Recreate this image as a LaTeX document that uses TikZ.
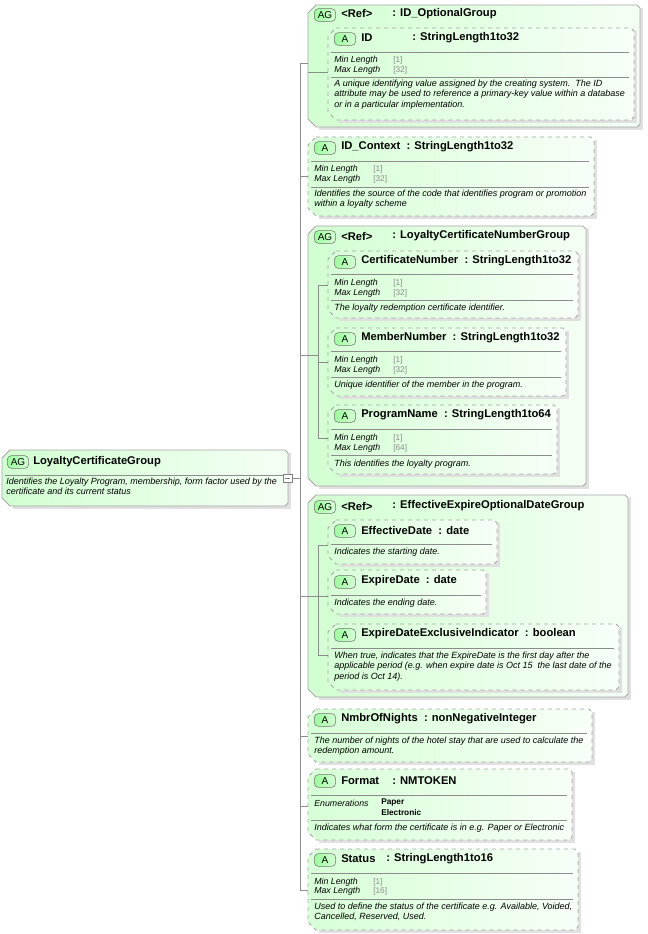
\documentclass[tikz,border=0pt]{standalone}
\usepackage{fontspec}
\setmainfont{Liberation Sans}
\begin{document}
\begin{tikzpicture}[x=0.75pt,y=-0.75pt,
  grp/.style={draw=black!35,line width=0.6pt,left color=green!18,right color=green!4},
  att/.style={draw=black!35,dashed,line width=0.6pt,left color=green!16,right color=green!3},
  conn/.style={draw=black!45,line width=0.5pt},
  sep/.style={draw=black!45,line width=0.5pt},
  ttl/.style={anchor=west,inner sep=0pt,font=\fontsize{8.4}{10}\selectfont\bfseries},
  sm/.style={anchor=west,inner sep=0pt,font=\fontsize{6.6}{7.6}\selectfont\itshape},
  val/.style={anchor=west,inner sep=0pt,text=black!45,font=\fontsize{6.2}{7}\selectfont},
  enum/.style={anchor=west,inner sep=0pt,font=\fontsize{6.2}{7}\selectfont\bfseries},
  desc/.style={anchor=north west,inner sep=0pt,align=left,font=\fontsize{6.75}{7.6}\selectfont\itshape},
  badge/.style={draw=black!55,rounded corners=3pt,left color=green!40,right color=green!15,minimum width=16pt,minimum height=9.5pt,inner sep=0pt,font=\fontsize{7.5}{8}\selectfont}]
\useasboundingbox (0,0) rectangle (648,934);
\newcommand\bx[5]{%
  \fill[black!12] ({#1+11},{#2+3}) -- ({#3+3},{#2+3}) -- ({#3+3},{#4+3}) -- ({#1+11},{#4+3}) -- cycle;
  \path[#5] ({#1+8},#2) -- ({#3-3},#2) -- (#3,{#2+3}) -- (#3,{#4-3}) -- ({#3-3},#4) -- ({#1+8},#4) -- (#1,{#4-8}) -- (#1,{#2+8}) -- cycle;}
\newcommand\hs[3]{\draw[sep] ({#1+3},#3) -- ({#2-5},#3);}
% main element
\bx{2}{450}{288}{506}{grp}
\node[badge] (bm) at (18,462) {AG};
\node[ttl] (tm) at (33,462) {LoyaltyCertificateGroup};
\hs{2}{288}{475}
\node[desc] (dm) at (6,478) {Identifies the Loyalty Program, membership, form factor used by the\\certificate and its current status};
\draw[black!50,fill=white] (283,474) rectangle (292,482);
\draw[black!50] (285,478) -- (290,478);
\coordinate (hub) at (292,478);
\coordinate (vtop) at (300,63);
\coordinate (vbot) at (300,890);
\draw[conn] (hub) -- (300,478);
\draw[conn] (vtop) -- (vbot);
% group 1
\bx{308}{5}{640}{127}{grp}
\node[badge] at (325,15) {AG};
\node[ttl] at (341,14) {<Ref>};
\node[ttl] at (392,14) {: ID\_OptionalGroup};
\bx{328}{28}{634}{120}{att}
\node[badge] at (345,39) {A};
\node[ttl] at (361,38) {ID};
\node[ttl] at (412,38) {: StringLength1to32};
\hs{328}{634}{52}
\node[sm] at (334,60) {Min Length}; \node[val] at (393,60) {[1]};
\node[sm] at (334,70) {Max Length}; \node[val] at (393,70) {[32]};
\hs{328}{634}{77}
\node[desc] at (334,80) {A unique identifying value assigned by the creating system.\ \ The ID\\attribute may be used to reference a primary-key value within a database\\or in a particular implementation.};
\coordinate (c1) at (308,63);
\draw[conn] (308,72) -- (328,72);
% ID_Context
\bx{308}{137}{594}{216}{att}
\node[badge] at (325,148) {A};
\node[ttl] at (341,147) {ID\_Context\ \ : StringLength1to32};
\hs{308}{594}{161}
\node[sm] at (314,169) {Min Length}; \node[val] at (373,169) {[1]};
\node[sm] at (314,179) {Max Length}; \node[val] at (373,179) {[32]};
\hs{308}{594}{187}
\node[desc] at (314,190) {Identifies the source of the code that identifies program or promotion\\within a loyalty scheme};
\coordinate (c2) at (308,176);
\draw[conn] (300,176) -- (c2);
% group 3
\bx{308}{226}{586}{486}{grp}
\node[badge] at (325,237) {AG};
\node[ttl] at (341,236) {<Ref>};
\node[ttl] at (392,236) {: LoyaltyCertificateNumberGroup};
\coordinate (g3) at (308,355);
\draw[conn] (300,355) -- (g3);
\draw[conn] (308,355) -- (318,355) (318,285) -- (318,438);
\bx{328}{251}{578}{318}{att}
\node[badge] at (345,262) {A};
\node[ttl] at (361,261) {CertificateNumber\ \ : StringLength1to32};
\hs{328}{578}{274}
\node[sm] at (334,283) {Min Length}; \node[val] at (393,283) {[1]};
\node[sm] at (334,293) {Max Length}; \node[val] at (393,293) {[32]};
\hs{328}{578}{300}
\node[desc] at (334,304) {The loyalty redemption certificate identifier.};
\draw[conn] (318,285) -- (328,285);
\bx{328}{328}{566}{396}{att}
\node[badge] at (345,339) {A};
\node[ttl] at (361,338) {MemberNumber\ \ : StringLength1to32};
\hs{328}{566}{351}
\node[sm] at (334,360) {Min Length}; \node[val] at (393,360) {[1]};
\node[sm] at (334,370) {Max Length}; \node[val] at (393,370) {[32]};
\hs{328}{566}{377}
\node[desc] at (334,381) {Unique identifier of the member in the program.};
\draw[conn] (318,362) -- (328,362);
\bx{328}{405}{557}{474}{att}
\node[badge] at (345,416) {A};
\node[ttl] at (361,415) {ProgramName\ \ : StringLength1to64};
\hs{328}{557}{429}
\node[sm] at (334,438) {Min Length}; \node[val] at (393,438) {[1]};
\node[sm] at (334,448) {Max Length}; \node[val] at (393,448) {[64]};
\hs{328}{557}{455}
\node[desc] at (334,460) {This identifies the loyalty program.};
\draw[conn] (318,438) -- (328,438);
% group 4
\bx{308}{495}{628}{697}{grp}
\node[badge] at (325,507) {AG};
\node[ttl] at (341,506) {<Ref>};
\node[ttl] at (392,506) {: EffectiveExpireOptionalDateGroup};
\coordinate (g4) at (308,596);
\draw[conn] (300,596) -- (g4);
\draw[conn] (308,596) -- (318,596) (318,545) -- (318,655);
\bx{328}{520}{497}{564}{att}
\node[badge] at (345,531) {A};
\node[ttl] at (361,530) {EffectiveDate\ \ : date};
\hs{328}{497}{544}
\node[desc] at (334,548) {Indicates the starting date.};
\draw[conn] (318,545) -- (328,545);
\bx{328}{570}{486}{614}{att}
\node[badge] at (345,582) {A};
\node[ttl] at (361,581) {ExpireDate\ \ : date};
\hs{328}{486}{595}
\node[desc] at (334,599) {Indicates the ending date.};
\draw[conn] (318,596) -- (328,596);
\bx{328}{624}{619}{690}{att}
\node[badge] at (345,635) {A};
\node[ttl] at (361,634) {ExpireDateExclusiveIndicator\ \ : boolean};
\hs{328}{619}{648}
\node[desc] at (334,652) {When true, indicates that the ExpireDate is the first day after the\\applicable period (e.g. when expire date is Oct 15\ \ the last date of the\\period is Oct 14).};
\draw[conn] (318,655) -- (328,655);
% NmbrOfNights
\bx{308}{709}{592}{762}{att}
\node[badge] at (325,720) {A};
\node[ttl] at (341,719) {NmbrOfNights\ \ : nonNegativeInteger};
\hs{308}{592}{733}
\node[desc] at (314,737) {The number of nights of the hotel stay that are used to calculate the\\redemption amount.};
\coordinate (c6) at (308,736);
\draw[conn] (300,736) -- (c6);
% Format
\bx{308}{769}{572}{840}{att}
\node[badge] at (325,781) {A};
\node[ttl] at (341,781) {Format};
\node[ttl] at (392,781) {: NMTOKEN};
\hs{308}{572}{795}
\node[sm] at (314,803) {Enumerations};
\node[enum] at (381,803) {Paper};
\node[enum] at (381,813) {Electronic};
\hs{308}{572}{820}
\node[desc] at (314,824) {Indicates what form the certificate is in e.g. Paper or Electronic};
\coordinate (c7) at (308,806);
\draw[conn] (300,806) -- (c7);
% Status
\bx{308}{849}{578}{930}{att}
\node[badge] at (325,860) {A};
\node[ttl] at (341,859) {Status};
\node[ttl] at (386,859) {: StringLength1to16};
\hs{308}{578}{873}
\node[sm] at (314,882) {Min Length}; \node[val] at (373,882) {[1]};
\node[sm] at (314,891) {Max Length}; \node[val] at (373,891) {[16]};
\hs{308}{578}{899}
\node[desc] at (314,903) {Used to define the status of the certificate e.g. Available, Voided,\\Cancelled, Reserved, Used.};
\coordinate (c8) at (308,890);
\draw[conn] (vbot) -- (c8);
\draw[conn] (vtop) -- (c1);
\end{tikzpicture}
\end{document}
